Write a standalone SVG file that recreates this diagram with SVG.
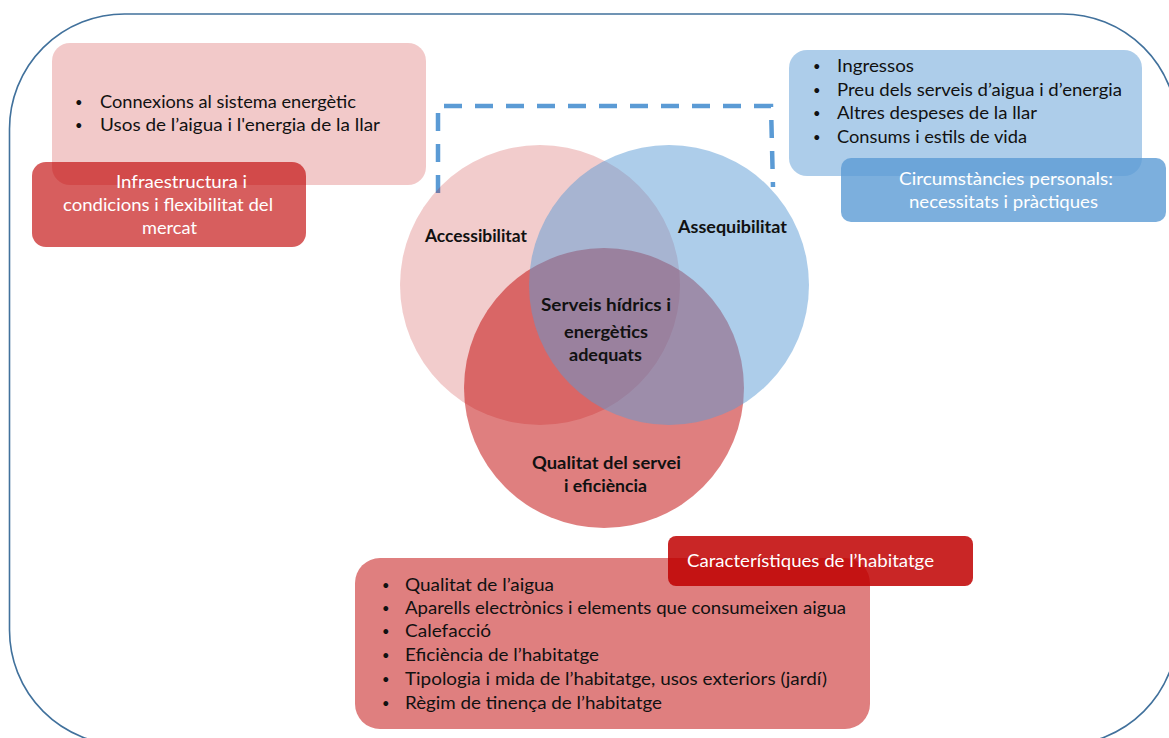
<svg xmlns="http://www.w3.org/2000/svg" width="1169" height="738" viewBox="0 0 1169 738">
<style>
text{font-family:Lato,"Liberation Sans","DejaVu Sans",sans-serif;font-size:17px;fill:#111}
.w{fill:#fff}
.b{font-weight:bold;font-size:16.5px}
.d{font-size:13px}
.red{fill:#c00000}
.blue{fill:#5b9bd5}
</style>
<rect x="0" y="0" width="1169" height="738" fill="#fff"/>
<g id="frame"><rect x="9.5" y="14" width="1168" height="731" rx="115" ry="115" fill="none" stroke="#41719c" stroke-width="1.6"/></g>

<g id="infra">
<rect class="red" x="52" y="43" width="374" height="142" rx="18" opacity="0.21"/>
<rect class="red" x="32" y="162" width="274" height="85" rx="14" opacity="0.63"/>
<text class="d" x="75" y="107">•</text><text x="100" y="108" textLength="256" lengthAdjust="spacingAndGlyphs">Connexions al sistema energètic</text>
<text class="d" x="75" y="130">•</text><text x="100" y="131" textLength="280" lengthAdjust="spacingAndGlyphs">Usos de l’aigua i l'energia de la llar</text>
<text class="w" x="116" y="188" textLength="131" lengthAdjust="spacingAndGlyphs">Infraestructura i</text>
<text class="w" x="63" y="211" textLength="210" lengthAdjust="spacingAndGlyphs">condicions i flexibilitat del</text>
<text class="w" x="142" y="234" textLength="55" lengthAdjust="spacingAndGlyphs">mercat</text>
</g>

<g id="circumstancies">
<rect class="blue" x="789" y="50" width="353" height="126" rx="18" opacity="0.5"/>
<rect class="blue" x="841" y="158" width="325" height="64" rx="10" opacity="0.8"/>
<text class="d" x="813" y="71">•</text><text x="837" y="72" textLength="77" lengthAdjust="spacingAndGlyphs">Ingressos</text>
<text class="d" x="813" y="95">•</text><text x="837" y="96" textLength="285" lengthAdjust="spacingAndGlyphs">Preu dels serveis d’aigua i d’energia</text>
<text class="d" x="813" y="118">•</text><text x="837" y="119" textLength="200" lengthAdjust="spacingAndGlyphs">Altres despeses de la llar</text>
<text class="d" x="813" y="142">•</text><text x="837" y="143" textLength="190" lengthAdjust="spacingAndGlyphs">Consums i estils de vida</text>
<text class="w" x="899" y="185" textLength="214" lengthAdjust="spacingAndGlyphs">Circumstàncies personals:</text>
<text class="w" x="909" y="208" textLength="189" lengthAdjust="spacingAndGlyphs">necessitats i pràctiques</text>
</g>

<g id="connectors">
<path d="M438,193 V106 H771 L773,187" fill="none" stroke="#5b9bd5" stroke-width="4.5" stroke-dasharray="18 13"/>
</g>

<g id="venn">
<circle class="red" cx="540" cy="285" r="140" opacity="0.2"/>
<circle class="red" cx="604" cy="388" r="140" opacity="0.5"/>
<circle class="blue" cx="669" cy="285" r="140" opacity="0.5"/>
<text class="b" x="425" y="242" textLength="102" lengthAdjust="spacingAndGlyphs">Accessibilitat</text>
<text class="b" x="678" y="233" textLength="109" lengthAdjust="spacingAndGlyphs">Assequibilitat</text>
<text class="b" x="541" y="311" textLength="130" lengthAdjust="spacingAndGlyphs">Serveis  hídrics i</text>
<text class="b" x="564" y="338" textLength="84" lengthAdjust="spacingAndGlyphs">energètics</text>
<text class="b" x="569" y="361" textLength="73" lengthAdjust="spacingAndGlyphs">adequats</text>
<text class="b" x="532" y="469" textLength="149" lengthAdjust="spacingAndGlyphs">Qualitat del servei</text>
<text class="b" x="564" y="492" textLength="83" lengthAdjust="spacingAndGlyphs">i eficiència</text>
</g>

<g id="habitatge">
<rect class="red" x="355" y="558" width="515" height="171" rx="25" opacity="0.5"/>
<rect class="red" x="668" y="536" width="305" height="50" rx="8" opacity="0.85"/>
<text class="w" x="687" y="567" textLength="247" lengthAdjust="spacingAndGlyphs">Característiques de l’habitatge</text>
<text class="d" x="382" y="590">•</text><text x="405" y="591" textLength="149" lengthAdjust="spacingAndGlyphs">Qualitat de l’aigua</text>
<text class="d" x="382" y="613">•</text><text x="405" y="614" textLength="441" lengthAdjust="spacingAndGlyphs">Aparells electrònics i elements que consumeixen aigua</text>
<text class="d" x="382" y="636">•</text><text x="405" y="637" textLength="86" lengthAdjust="spacingAndGlyphs">Calefacció</text>
<text class="d" x="382" y="660">•</text><text x="405" y="661" textLength="194" lengthAdjust="spacingAndGlyphs">Eficiència de l’habitatge</text>
<text class="d" x="382" y="684">•</text><text x="405" y="685" textLength="422" lengthAdjust="spacingAndGlyphs">Tipologia i mida de l’habitatge, usos exteriors (jardí)</text>
<text class="d" x="382" y="708">•</text><text x="405" y="709" textLength="257" lengthAdjust="spacingAndGlyphs">Règim de tinença de l’habitatge</text>
</g>
</svg>
